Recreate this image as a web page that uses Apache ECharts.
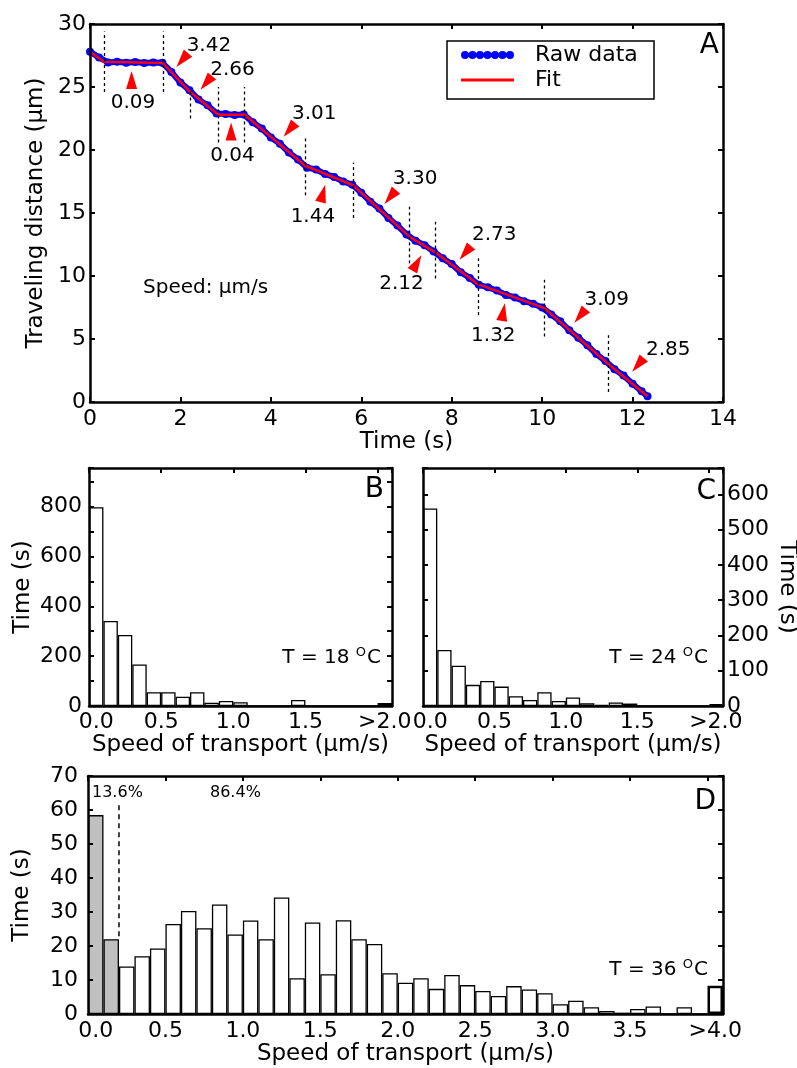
<!DOCTYPE html>
<html>
<head>
<meta charset="utf-8">
<script src="https://cdn.jsdelivr.net/npm/echarts@6/dist/echarts.min.js"></script>
<style>
html, body { margin: 0; padding: 0; background: #fff; }
#main { width: 797px; height: 1068px; }
</style>
</head>
<body>
<div id="main"></div>
<script>
// ---- panel A: traveling distance vs time ----
var rawTime = [0, 0.2, 0.4, 0.6, 0.8, 1.0, 1.2, 1.4, 1.6, 1.8, 2.0, 2.2, 2.4, 2.6, 2.8, 3.0, 3.2, 3.4,
    3.6, 3.8, 4.0, 4.2, 4.4, 4.6, 4.8, 5.0, 5.2, 5.4, 5.6, 5.8, 6.0, 6.2, 6.4, 6.6, 6.8, 7.0, 7.2, 7.4,
    7.6, 7.8, 8.0, 8.2, 8.4, 8.6, 8.8, 9.0, 9.2, 9.4, 9.6, 9.8, 10.0, 10.2, 10.4, 10.6, 10.8, 11.0,
    11.2, 11.4, 11.6, 11.8, 12.0, 12.2, 12.33];
var rawDist = [27.8, 27.35, 26.95, 27.0, 26.93, 26.98, 26.9, 26.95, 26.92, 26.2, 25.35, 24.75, 24.0,
    23.55, 22.9, 22.85, 22.78, 22.82, 22.2, 21.7, 21.0, 20.5, 19.8, 19.25, 18.6, 18.45, 18.1, 17.85,
    17.5, 17.25, 16.6, 15.9, 15.35, 14.6, 14.0, 13.3, 12.8, 12.45, 11.95, 11.4, 10.95, 10.3, 9.85,
    9.3, 9.1, 8.85, 8.5, 8.3, 8.0, 7.8, 7.5, 6.95, 6.4, 5.7, 5.1, 4.5, 3.8, 3.25, 2.6, 2.1, 1.45,
    0.85, 0.45];
var fitTime = [0, 0.31, 1.61, 2.22, 2.84, 3.42, 4.76, 5.82, 7.07, 7.63, 8.58, 10.05, 11.47, 12.33];
var fitDist = [27.8, 27.0, 26.9, 24.6, 22.8, 22.8, 18.75, 17.2, 13.1, 11.9, 9.35, 7.45, 3.0, 0.45];
var speedLabels = ['0.09', '3.42', '2.66', '0.04', '3.01', '1.44', '3.30', '2.12', '2.73', '1.32', '3.09', '2.85'];

// ---- panels B, C, D: histograms ----
var binsB = ['0.0', '0.1', '0.2', '0.3', '0.4', '0.5', '0.6', '0.7', '0.8', '0.9', '1.0',
    '1.1', '1.2', '1.3', '1.4', '1.5', '1.6', '1.7', '1.8', '1.9', '>2.0'];
var timeB = [798, 341, 285, 167, 55, 55, 37, 55, 13, 20, 15, 0, 0, 0, 24, 0, 0, 0, 0, 0, 12];
var timeC = [560, 159, 114, 60, 71, 55, 28, 17, 39, 14, 24, 8, 3, 10, 7, 1, 0, 0, 0, 0, 4];
var binsD = ['0.0', '0.1', '0.2', '0.3', '0.4', '0.5', '0.6', '0.7', '0.8', '0.9', '1.0',
    '1.1', '1.2', '1.3', '1.4', '1.5', '1.6', '1.7', '1.8', '1.9', '2.0',
    '2.1', '2.2', '2.3', '2.4', '2.5', '2.6', '2.7', '2.8', '2.9', '3.0',
    '3.1', '3.2', '3.3', '3.4', '3.5', '3.6', '3.7', '3.8', '3.9', '>4.0'];
var timeD = [58.5, 22, 14, 17, 19.3, 26.5, 30.3, 25.2, 32.2, 23.4, 27.5, 22, 34.3, 10.5, 26.9, 11.7,
    27.6, 22, 20.6, 12, 9.2, 10.5, 7.4, 11.5, 8.5, 6.8, 5.3, 8.2, 7.2, 6.1, 2.9, 3.9, 2.0, 0.9,
    0.4, 1.5, 2.2, 0, 2.0, 0, 8.3];

// annotation layout (data coords of panel A)
var cutLines = [[0.31, 24.6, 29.4], [1.61, 24.6, 29.4], [2.22, 22.5, 24.9], [2.84, 20.6, 25.0],
    [3.42, 20.6, 25.0], [4.76, 16.4, 20.95], [5.82, 14.6, 19.0], [7.07, 11.0, 15.5], [7.63, 9.8, 14.3],
    [8.58, 6.9, 11.4], [10.05, 5.2, 9.7], [11.47, 0.8, 5.3]];
var arrowPos = [[0.92, 25.55, 0], [2.04, 27.14, 140], [2.57, 25.32, 140], [3.12, 21.47, 0],
    [4.41, 21.59, 140], [5.15, 16.55, -15], [6.64, 16.27, 140], [7.23, 11.03, -30],
    [8.30, 11.83, 140], [9.14, 7.14, -10], [10.84, 6.83, 140], [12.12, 2.94, 140]];
var labelPos = [[0.95, 23.73], [2.63, 28.25], [3.15, 26.39], [3.15, 19.52], [4.96, 22.86],
    [4.93, 14.72], [7.19, 17.70], [6.89, 9.40], [8.94, 13.25], [8.92, 5.24], [11.43, 8.13], [12.79, 4.13]];

var FONT = 'DejaVu Sans';
var AXIS_LINE = { onZero: false, lineStyle: { color: '#000', width: 2.5 } };
var TICK_IN = { inside: true, length: 5, lineStyle: { color: '#000', width: 2 } };
var NAME_STYLE = { color: '#000', fontSize: 23, fontFamily: FONT };

function lab(margin, fmt) {
    return { color: '#000', fontSize: 22, fontFamily: FONT, margin: margin, formatter: fmt };
}

// labels: first/last at bin centre, the rest at bin edges
function binLabel(last) {
    return function (v) {
        var k = Math.round(v * 100);
        if (k === 5) return '0.0';
        if (k === last * 100 + 5) return '>' + last.toFixed(1);
        if (k > 0 && k < last * 100 && k % 50 === 0) return (k / 100).toFixed(1);
        return '';
    };
}

function frameX(grid, pos, max, interval) {
    return { gridIndex: grid, type: 'value', position: pos, min: 0, max: max, interval: interval, z: 10,
        axisLine: AXIS_LINE, axisTick: TICK_IN, axisLabel: { show: false }, splitLine: { show: false } };
}
function frameY(grid, pos, max, interval) {
    return { gridIndex: grid, type: 'value', position: pos, min: 0, max: max, interval: interval, z: 10,
        axisLine: AXIS_LINE, axisTick: TICK_IN, axisLabel: { show: false }, splitLine: { show: false } };
}

function histData(values, grayUntil) {
    return values.map(function (v, i) {
        var st = { color: i < grayUntil ? '#c0c0c0' : '#fff' };
        if (i === values.length - 1) st.borderWidth = 2.5;
        return { value: v, itemStyle: st };
    });
}

var dotsIcon = 'path://';
for (var i = 0; i < 7; i++) {
    var x0 = i * 7.5;
    dotsIcon += 'M' + x0 + ',4a4,4 0 1,0 8,0a4,4 0 1,0 -8,0Z';
}

// ---- axes ----
var xA = frameX(0, 'bottom', 14, 2);
xA.axisLabel = lab(6);
xA.name = 'Time (s)';
xA.nameLocation = 'middle';
xA.nameGap = 24;
xA.nameTextStyle = NAME_STYLE;

var yA = frameY(0, 'left', 30, 5);
yA.axisLabel = lab(4);
yA.name = 'Traveling distance (\u03bcm)';
yA.nameLocation = 'middle';
yA.nameGap = 34;
yA.nameTextStyle = NAME_STYLE;

function histBottom(grid, max, last) {
    var ax = frameX(grid, 'bottom', max, 0.05);
    ax.axisTick = { show: false };
    ax.axisLabel = lab(5, binLabel(last));
    ax.name = 'Speed of transport (\u03bcm/s)';
    ax.nameLocation = 'middle';
    ax.nameGap = 24;
    ax.nameTextStyle = NAME_STYLE;
    return ax;
}
function catAxis(grid, bins) {
    return { gridIndex: grid, type: 'category', data: bins, show: false, boundaryGap: true };
}

var yB = frameY(1, 'left', 955, 100);
yB.axisLabel = lab(7, function (v) { return v % 200 === 0 ? v : ''; });
yB.name = 'Time (s)';
yB.nameLocation = 'middle';
yB.nameGap = 54;
yB.nameTextStyle = NAME_STYLE;

var yC = frameY(2, 'right', 675, 100);
yC.axisLabel = lab(4, function (v) { return v % 100 === 0 ? v : ''; });
yC.name = 'Time (s)';
yC.nameLocation = 'middle';
yC.nameRotate = -90;
yC.nameGap = 52;
yC.nameTextStyle = NAME_STYLE;

var yD = frameY(3, 'left', 70, 10);
yD.axisLabel = lab(10);
yD.name = 'Time (s)';
yD.nameLocation = 'middle';
yD.nameGap = 54;
yD.nameTextStyle = NAME_STYLE;

var xD = histBottom(3, 4.1, 4);
xD.axisLabel.margin = 6;
xD.nameGap = 26;

var barStyle = { color: '#fff', borderColor: '#000', borderWidth: 1.3 };

function txt(x, y, text, size, align) {
    return { type: 'text', x: x, y: y, z: 20,
        style: { text: text, fill: '#000', fontSize: size, fontFamily: FONT,
            align: align, textAlign: align, verticalAlign: 'middle', textVerticalAlign: 'middle' } };
}
function tempText(x, y, t) {
    return { type: 'text', x: x, y: y, z: 20,
        style: { text: '{a|T = ' + t + ' }{s|O}{a|C}', fill: '#000', fontFamily: FONT,
            align: 'right', textAlign: 'right', verticalAlign: 'middle', textVerticalAlign: 'middle',
            rich: { a: { fontSize: 20, fontFamily: FONT, lineHeight: 24 },
                s: { fontSize: 13, fontFamily: FONT, verticalAlign: 'top', padding: [0, 1, 0, 0] } } } };
}

var option = {
    animation: false,
    backgroundColor: '#fff',
    textStyle: { fontFamily: FONT },
    grid: [
        { left: 90, top: 24, width: 633, height: 378, outerBoundsMode: 'none' },
        { left: 89, top: 468, width: 303, height: 238, outerBoundsMode: 'none' },
        { left: 423, top: 468, width: 300, height: 238, outerBoundsMode: 'none' },
        { left: 88, top: 776, width: 635, height: 238, outerBoundsMode: 'none' }
    ],
    legend: [
        { data: [{ name: 'Raw data', icon: dotsIcon }], left: 461, top: 44, padding: 0,
          itemWidth: 53, itemHeight: 8, selectedMode: false, itemStyle: { borderWidth: 0 },
          textStyle: { fontSize: 22, fontFamily: FONT, color: '#000', padding: [0, 0, 0, 16] } },
        { data: [{ name: 'Fit', icon: 'rect' }], left: 461, top: 69, padding: 0,
          itemWidth: 53, itemHeight: 3, selectedMode: false, itemStyle: { borderWidth: 0 },
          textStyle: { fontSize: 22, fontFamily: FONT, color: '#000', padding: [0, 0, 0, 16] } }
    ],
    xAxis: [
        xA, frameX(0, 'top', 14, 2),
        catAxis(1, binsB), histBottom(1, 2.1, 2), frameX(1, 'top', 2.1, 0.5),
        catAxis(2, binsB), histBottom(2, 2.1, 2), frameX(2, 'top', 2.1, 0.5),
        catAxis(3, binsD), xD, frameX(3, 'top', 4.1, 0.5)
    ],
    yAxis: [
        yA, frameY(0, 'right', 30, 5),
        yB, frameY(1, 'right', 955, 100),
        frameY(2, 'left', 675, 100), yC,
        yD, frameY(3, 'right', 70, 10)
    ],
    graphic: [
        { type: 'rect', shape: { x: 447, y: 41, width: 207, height: 58 }, z: 15,
          style: { fill: 'none', stroke: '#000', lineWidth: 1.5 } },
        txt(719, 46, 'A', 28, 'right'),
        txt(143, 288, 'Speed: \u03bcm/s', 20, 'left'),
        txt(384, 490, 'B', 28, 'right'),
        txt(716, 492, 'C', 28, 'right'),
        txt(716, 802, 'D', 28, 'right'),
        tempText(381, 658, '18'),
        tempText(708, 658, '24'),
        tempText(708, 970, '36'),
        txt(92, 793, '13.6%', 16, 'left'),
        txt(210, 793, '86.4%', 16, 'left')
    ],
    series: [
        {
            name: 'Raw data', type: 'line', xAxisIndex: 0, yAxisIndex: 0,
            data: rawTime.map(function (t, i) { return [t, rawDist[i]]; }),
            symbol: 'circle', symbolSize: 8, showAllSymbol: true,
            itemStyle: { color: '#0000ff', borderWidth: 0 },
            lineStyle: { color: '#0000ff', width: 6 }, z: 3
        },
        {
            name: 'Fit', type: 'line', xAxisIndex: 0, yAxisIndex: 0,
            data: fitTime.map(function (t, i) { return [t, fitDist[i]]; }),
            symbol: 'none', itemStyle: { color: '#ff0000' },
            lineStyle: { color: '#ff0000', width: 2.5 }, z: 4,
            markLine: {
                silent: true, symbol: ['none', 'none'], animation: false,
                label: { show: false },
                lineStyle: { color: '#000', width: 1.3, type: [3, 3] },
                emphasis: { disabled: true },
                data: cutLines.map(function (c) {
                    return [{ coord: [c[0], c[1]] }, { coord: [c[0], c[2]] }];
                })
            }
        },
        {
            name: 'arrows', type: 'scatter', xAxisIndex: 0, yAxisIndex: 0, z: 6,
            symbol: 'triangle', symbolSize: [11, 18], itemStyle: { color: '#ff0000', opacity: 1 },
            data: arrowPos.map(function (p) { return { value: [p[0], p[1]], symbolRotate: p[2] }; })
        },
        {
            name: 'speeds', type: 'scatter', xAxisIndex: 0, yAxisIndex: 0, z: 6,
            symbolSize: 1, itemStyle: { color: 'rgba(0,0,0,0)', opacity: 1 },
            label: { show: true, position: 'inside', formatter: '{b}', color: '#000',
                fontSize: 20, fontFamily: FONT },
            data: labelPos.map(function (p, i) { return { name: speedLabels[i], value: p }; })
        },
        {
            name: 'B', type: 'bar', xAxisIndex: 2, yAxisIndex: 2, barCategoryGap: '0%',
            itemStyle: barStyle, data: histData(timeB, 0)
        },
        {
            name: 'C', type: 'bar', xAxisIndex: 5, yAxisIndex: 5, barCategoryGap: '0%',
            itemStyle: barStyle, data: histData(timeC, 0)
        },
        {
            name: 'D', type: 'bar', xAxisIndex: 8, yAxisIndex: 6, barCategoryGap: '0%',
            itemStyle: barStyle, data: histData(timeD, 2)
        },
        {
            name: 'cut', type: 'line', xAxisIndex: 9, yAxisIndex: 6, symbol: 'none', z: 5,
            lineStyle: { color: '#000', width: 1.5, type: [5, 4] },
            data: [[0.2, 61.4], [0.2, 22]]
        }
    ]
};

var chart = echarts.init(document.getElementById('main'), null, { renderer: 'canvas' });
chart.setOption(option);
</script>
</body>
</html>
